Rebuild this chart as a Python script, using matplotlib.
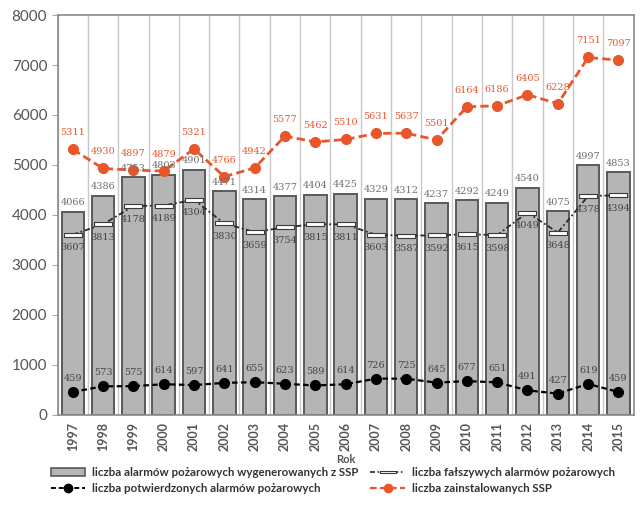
import numpy as np
import matplotlib.pyplot as plt
from matplotlib.lines import Line2D
from matplotlib.patches import Patch

# ── Data ────────────────────────────────────────────────────
years = [1997, 1998, 1999, 2000, 2001, 2002, 2003, 2004, 2005, 2006,
         2007, 2008, 2009, 2010, 2011, 2012, 2013, 2014, 2015]
alarms_total = [4066, 4386, 4753, 4803, 4901, 4471, 4314, 4377, 4404, 4425,
                4329, 4312, 4237, 4292, 4249, 4540, 4075, 4997, 4853]
alarms_false = [3607, 3813, 4178, 4189, 4304, 3830, 3659, 3754, 3815, 3811,
                3603, 3587, 3592, 3615, 3598, 4049, 3648, 4378, 4394]
alarms_confirmed = [459, 573, 575, 614, 597, 641, 655, 623, 589, 614,
                    726, 725, 645, 677, 651, 491, 427, 619, 459]
ssp_installed = [5311, 4930, 4897, 4879, 5321, 4766, 4942, 5577, 5462, 5510,
                 5631, 5637, 5501, 6164, 6186, 6405, 6228, 7151, 7097]

# ── Styling ─────────────────────────────────────────────────
BAR_FACE = "#b5b5b5"
BAR_EDGE = "#5a5a5a"
ORANGE = "#e8572b"
TEXT_GREY = "#6e6e6e"
plt.rcParams["font.family"] = ["Lato", "DejaVu Sans"]

fig = plt.figure(figsize=(6.4, 5.18), dpi=100, facecolor="white")
ax = fig.add_axes([0.09, 0.199, 0.9, 0.772])

x = np.arange(len(years))

# category separators
for b in np.arange(-0.5, len(years), 1.0):
    ax.axvline(b, color="#c8c8c8", lw=1.0, zorder=0)

ax.bar(x, alarms_total, width=0.74, color=BAR_FACE, edgecolor=BAR_EDGE,
       linewidth=1.4, zorder=2)

# wide flat marker for false alarms
flat = [(-3, -0.55), (3, -0.55), (3, 0.55), (-3, 0.55), (-3, -0.55)]
ax.plot(x, alarms_false, color="#2a2a2a", lw=1.3, ls=(0, (3, 1.5, 1, 1.5)),
        marker=flat, markersize=13, markerfacecolor="white",
        markeredgecolor="#3a3a3a", markeredgewidth=0.8, zorder=3)

ax.plot(x, alarms_confirmed, color="black", lw=1.6, ls=(0, (2.5, 1.5)),
        marker="o", markersize=7, zorder=4)

ax.plot(x, ssp_installed, color=ORANGE, lw=2.0, ls=(0, (3, 1.5)),
        marker="o", markersize=7, zorder=4)

# value labels
lab_kw = dict(ha="center", fontsize=7, family="DejaVu Serif")
for i in x:
    ax.text(i, alarms_total[i] + 90, str(alarms_total[i]), va="bottom",
            color=TEXT_GREY, zorder=5, **lab_kw)
    ax.text(i, alarms_false[i] - 170, str(alarms_false[i]), va="top",
            color="#444444", zorder=5, **lab_kw)
    ax.text(i, alarms_confirmed[i] + 180, str(alarms_confirmed[i]), va="bottom",
            color="#444444", zorder=5, **lab_kw)
    ax.text(i, ssp_installed[i] + 240, str(ssp_installed[i]), va="bottom",
            color=ORANGE, zorder=5, **lab_kw)

ax.set_xlim(-0.5, len(years) - 0.5)
ax.set_ylim(0, 8000)
ax.set_yticks(range(0, 8001, 1000))
ax.set_xticks(x)
ax.set_xticklabels([str(y) for y in years], rotation=90, fontsize=9,
                   color="#555555", fontweight="bold")
ax.tick_params(axis="y", labelsize=11, colors="#555555", length=4,
               color="#aaaaaa")
ax.tick_params(axis="x", length=0, pad=5)
for s in ax.spines.values():
    s.set_color("#8a8a8a")
    s.set_linewidth(1.2)

ax.set_xlabel("Rok", fontsize=8, fontweight="bold", color="#555555",
              labelpad=2)

# ── Legend ──────────────────────────────────────────────────
handles = [
    Patch(facecolor=BAR_FACE, edgecolor=BAR_EDGE, linewidth=1.2,
          label="liczba alarmów pożarowych wygenerowanych z SSP"),
    Line2D([], [], color="black", lw=1.4, ls=(0, (2.5, 1.5)), marker="o",
           markersize=6, label="liczba potwierdzonych alarmów pożarowych"),
    Line2D([], [], color="#2a2a2a", lw=1.2, ls=(0, (3, 1.5, 1, 1.5)),
           marker=flat, markersize=11, markerfacecolor="white",
           markeredgecolor="#3a3a3a", markeredgewidth=0.8,
           label="liczba fałszywych alarmów pożarowych"),
    Line2D([], [], color=ORANGE, lw=1.6, ls=(0, (3, 1.5)), marker="o",
           markersize=6, label="liczba zainstalowanych SSP"),
]
fig.legend(handles=handles, loc="upper center", ncol=2, frameon=False,
           prop={"size": 8.3, "weight": "bold"}, bbox_to_anchor=(0.52, 0.118),
           handlelength=3, columnspacing=1.0, labelspacing=0.45,
           handletextpad=0.6, labelcolor="#333333")

fig.savefig("out.png", dpi=100, facecolor="white")
